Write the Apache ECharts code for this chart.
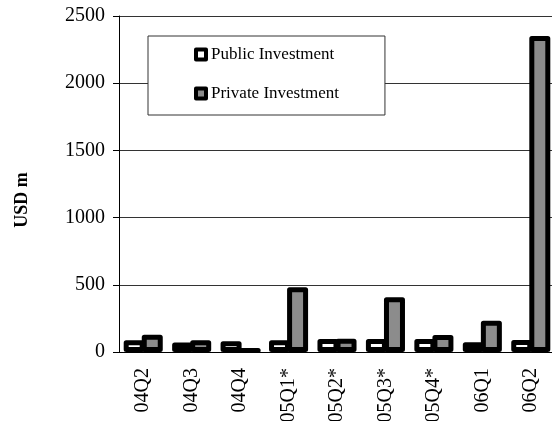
<!DOCTYPE html>
<html>
<head>
<meta charset="utf-8">
<script src="https://cdn.jsdelivr.net/npm/echarts@6/dist/echarts.min.js"></script>
<style>
  html, body { margin: 0; padding: 0; background: #fff; }
  #chart { width: 552px; height: 421px; }
</style>
</head>
<body>
<div id="chart"></div>
<script>
// 数据
var quarters = ["04Q2", "04Q3", "04Q4", "05Q1*", "05Q2*", "05Q3*", "05Q4*", "06Q1", "06Q2"];
var publicInv = [88, 70, 80, 88, 97, 97, 97, 72, 90];
var privateInv = [128, 88, 22, 481, 99, 407, 126, 233, 2351];
var yTicks = [0, 500, 1000, 1500, 2000, 2500];

var font = "Liberation Serif, Times New Roman, serif";

var myChart = echarts.init(document.getElementById("chart"));
myChart.setOption({
  animation: false,
  grid: { left: 119, top: 16, bottom: 69, width: 436, outerBoundsMode: "none", containLabel: false },
  legend: {
    orient: "vertical",
    left: 148,
    top: 36,
    padding: [10, 46, 13, 46],
    itemGap: 22,
    itemWidth: 10,
    itemHeight: 10,
    backgroundColor: "#fff",
    borderColor: "#333",
    borderWidth: 1,
    textStyle: { fontFamily: font, fontSize: 17, color: "#000" },
    data: [
      { name: "Public Investment", icon: "rect", itemStyle: { color: "#fff", borderColor: "#000", borderWidth: 4 } },
      { name: "Private Investment", icon: "rect", itemStyle: { color: "#8c8c8c", borderColor: "#000", borderWidth: 4 } }
    ]
  },
  xAxis: {
    type: "category",
    data: quarters,
    axisLine: { lineStyle: { color: "#000", width: 1 } },
    axisTick: { length: 8, lineStyle: { color: "#000" } },
    axisLabel: { rotate: 90, margin: 16, fontFamily: font, fontSize: 20, color: "#000" }
  },
  yAxis: {
    type: "value",
    min: yTicks[0],
    max: yTicks[yTicks.length - 1],
    interval: 500,
    name: "USD m",
    nameLocation: "middle",
    nameGap: 88,
    nameTextStyle: { fontFamily: font, fontSize: 18, fontWeight: "bold", color: "#000", padding: [0, 32, 0, 0] },
    axisLine: { show: true, lineStyle: { color: "#000", width: 1 } },
    axisTick: { show: true, length: 6, lineStyle: { color: "#000" } },
    axisLabel: {
      margin: 14, fontFamily: font, fontSize: 20, color: "#000",
      formatter: function (v) { return String(v); }
    },
    splitLine: { lineStyle: { color: "#333", width: 1 } }
  },
  series: [
    {
      name: "Public Investment",
      type: "bar",
      data: publicInv,
      barWidth: 21,
      barGap: "-14%",
      itemStyle: { color: "#fff", borderColor: "#000", borderWidth: 5, borderJoin: "round" }
    },
    {
      name: "Private Investment",
      type: "bar",
      data: privateInv,
      barWidth: 21,
      itemStyle: { color: "#8c8c8c", borderColor: "#000", borderWidth: 5, borderJoin: "round" }
    }
  ]
});
</script>
</body>
</html>
